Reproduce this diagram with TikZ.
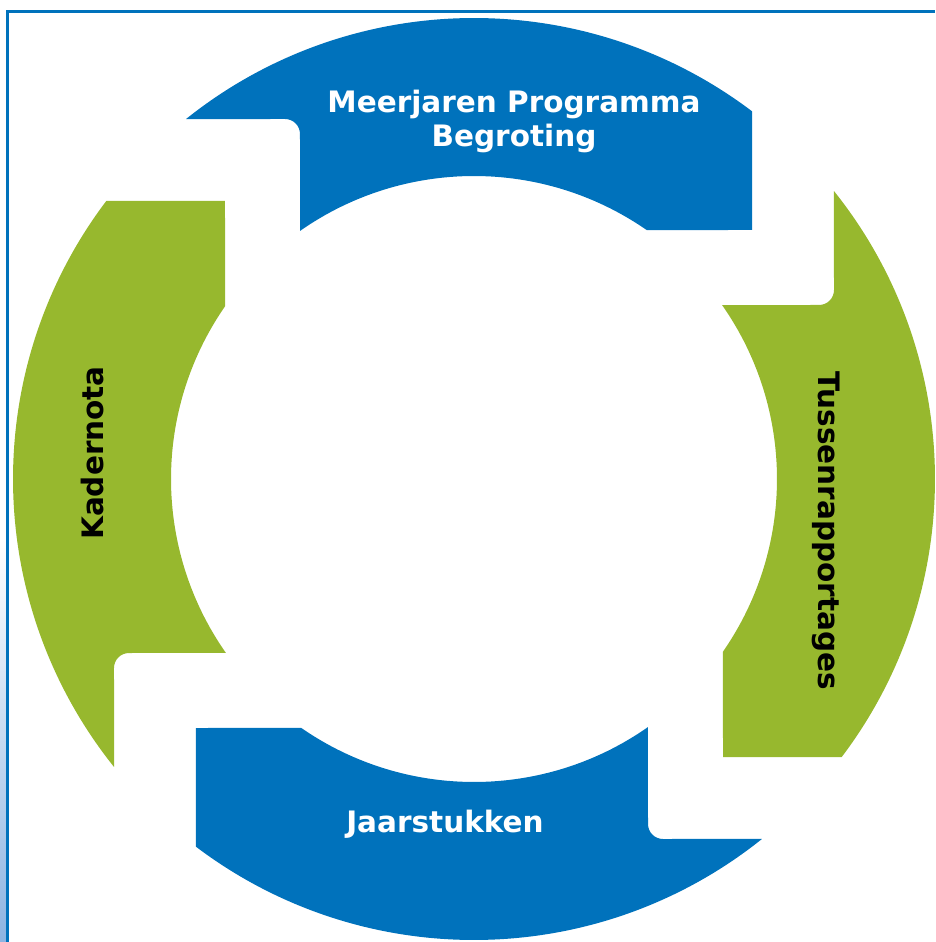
\documentclass[tikz,border=0pt]{standalone}
\usepackage{fontspec}
\setmainfont{DejaVu Sans}
\usepackage{tikz}
\definecolor{cycblue}{RGB}{0,114,188}
\definecolor{cycgreen}{RGB}{151,184,46}
\definecolor{edgeblue}{RGB}{140,180,226}
\begin{document}
\begin{tikzpicture}[x=1pt,y=1pt,font=\bfseries\fontsize{29.5}{34}\selectfont,
  lbl/.style={anchor=base,inner sep=0pt}]
  \useasboundingbox (-474,-463) rectangle (461,479);
  \shade[top color=white,bottom color=edgeblue] (-474,-463) rectangle (-467,-60);
  \draw[cycblue,line width=3pt] (-466,-463) -- (-466,467.5) -- (461,467.5);
  \foreach \ang/\col in {0/cycblue,90/cycgreen,180/cycblue,270/cycgreen}{
    \fill[\col,rotate=\ang] (128.66:461) arc[start angle=128.66,end angle=52.91,radius=461]
      -- (278,249) -- (55.26:303) arc[start angle=55.26,end angle=125.04,radius=303]
      -- (-174,345) arc[start angle=0,end angle=90,radius=15] -- cycle;
  }
  \node[text=white,align=center,inner sep=0pt] (mpb) at (40,358) {Meerjaren Programma\\Begroting};
  \node[lbl,text=white] (js) at (-29,-353) {Jaarstukken};
  \node[lbl,rotate=90] (kn) at (-370,26) {Kadernota};
  \node[lbl,rotate=-90] (tr) at (344,-52) {Tussenrapportages};
\end{tikzpicture}
\end{document}
